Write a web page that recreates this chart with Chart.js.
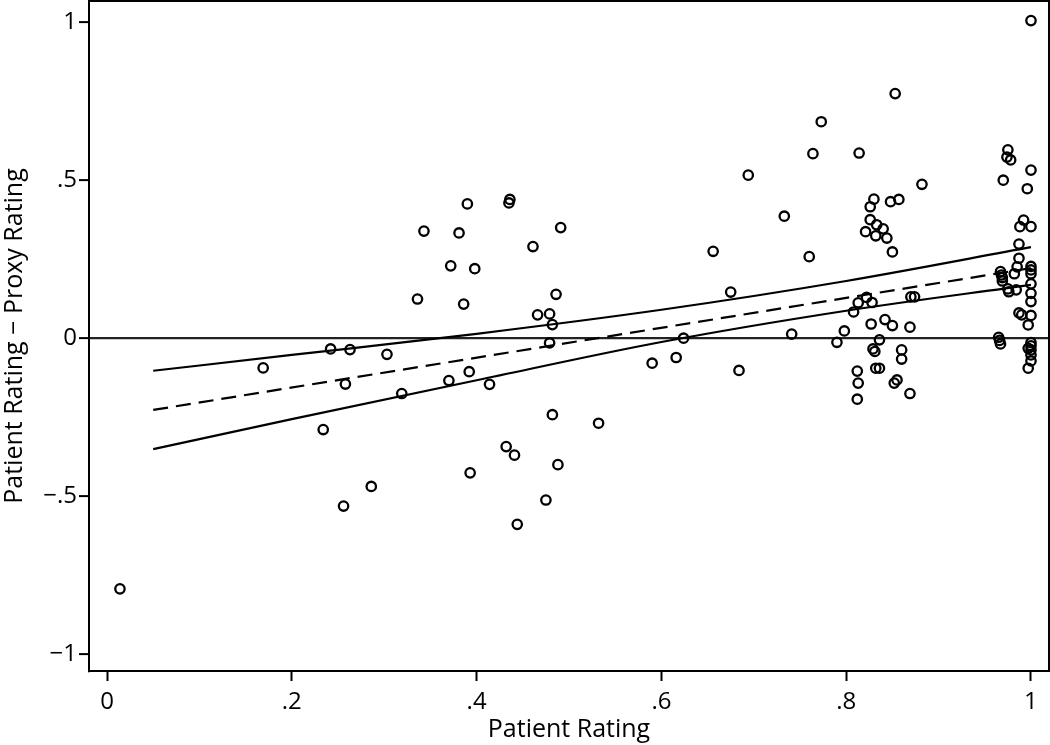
<!DOCTYPE html>
<html>
<head>
<meta charset="utf-8">
<script src="https://cdn.jsdelivr.net/npm/chart.js@4/dist/chart.umd.min.js"></script>
<style>
  html, body { margin: 0; padding: 0; background: #fff; overflow: hidden; }
  #wrap { width: 1050px; height: 745px; }
</style>
</head>
<body>
<div id="wrap"><canvas id="c" width="1050" height="745"></canvas></div>
<script>
// ---- data ----
const ptX = [0.014,0.169,0.234,0.242,0.256,0.258,0.263,0.286,0.303,0.319,0.336,0.343,0.370,0.372,0.381,0.386,0.390,0.392,0.393,0.398,0.414,0.432,0.435,0.436,0.441,0.444,0.461,0.466,0.475,0.479,0.479,0.482,0.482,0.486,0.488,0.491,0.532,0.590,0.616,0.624,0.656,0.675,0.684,0.694,0.733,0.741,0.760,0.764,0.773,0.790,0.798,0.808,0.812,0.813,0.812,0.813,0.814,0.821,0.822,0.826,0.826,0.827,0.828,0.829,0.831,0.830,0.832,0.833,0.832,0.836,0.836,0.840,0.842,0.844,0.848,0.850,0.850,0.852,0.855,0.853,0.857,0.860,0.860,0.869,0.869,0.870,0.874,0.882,0.965,0.966,0.967,0.967,0.968,0.969,0.969,0.970,0.974,0.975,0.978,0.975,0.976,0.982,0.985,0.984,0.987,0.987,0.987,0.990,0.988,0.992,0.996,0.997,0.997,0.997,1.000,1.000,1.000,1.000,1.000,1.000,1.000,1.000,1.000,1.000,1.000,1.000,1.000,1.000,1.000];
const ptY = [-0.794,-0.095,-0.290,-0.035,-0.532,-0.146,-0.037,-0.470,-0.052,-0.176,0.123,0.338,-0.135,0.228,0.332,0.107,0.424,-0.107,-0.427,0.219,-0.147,-0.344,0.427,0.438,-0.371,-0.590,0.289,0.073,-0.513,0.076,-0.016,0.042,-0.243,0.138,-0.401,0.349,-0.270,-0.080,-0.062,-0.001,0.274,0.145,-0.103,0.515,0.385,0.012,0.257,0.583,0.684,-0.014,0.022,0.082,-0.105,-0.143,-0.194,0.111,0.585,0.336,0.128,0.415,0.374,0.044,0.112,-0.035,-0.043,0.439,0.323,0.358,-0.096,-0.096,-0.006,0.345,0.058,0.316,0.431,0.272,0.039,-0.143,-0.133,0.773,0.438,-0.038,-0.067,0.034,-0.176,0.130,0.130,0.486,0.002,-0.008,-0.019,0.210,0.199,0.191,0.180,0.499,0.572,0.595,0.563,0.155,0.146,0.203,0.225,0.152,0.297,0.252,0.079,0.073,0.352,0.373,0.472,0.041,-0.033,-0.096,1.004,0.531,0.352,0.226,0.215,0.203,0.171,0.141,0.115,0.071,-0.015,-0.025,-0.038,-0.054,-0.073];

const fitX = [0.05, 1.0];
const fitY = [-0.228, 0.221];

const ciX = [0.05, 0.2, 0.4, 0.6, 0.8, 1.0];
const ciUpper = [-0.104, -0.054, 0.013, 0.089, 0.180, 0.287];
const ciLower = [-0.352, -0.257, -0.134, -0.013, 0.086, 0.168];

const xTickVals = [0, 0.2, 0.4, 0.6, 0.8, 1];
const xTickLabels = ['0', '.2', '.4', '.6', '.8', '1'];
const yTickVals = [-1, -0.5, 0, 0.5, 1];
const yTickLabels = ['\u22121', '\u2212.5', '0', '.5', '1'];

const xTitle = 'Patient Rating';
const yTitle = 'Patient Rating \u2212 Proxy Rating';

// ---- build ----
const zip = (xs, ys) => xs.map((x, i) => ({ x: x, y: ys[i] }));
const FONT = "'Open Sans', 'DejaVu Sans', sans-serif";

const framePlugin = {
  id: 'frame',
  afterDraw(chart) {
    const a = chart.chartArea, ctx = chart.ctx;
    ctx.save();
    ctx.strokeStyle = '#000';
    ctx.lineWidth = 2;
    ctx.strokeRect(a.left, a.top, a.right - a.left, a.bottom - a.top);
    ctx.restore();
  }
};

const lineStyle = { showLine: true, pointRadius: 0, pointHoverRadius: 0, borderColor: '#000', borderWidth: 2.2, backgroundColor: 'transparent', fill: false };

new Chart(document.getElementById('c'), {
  type: 'scatter',
  data: {
    datasets: [
      Object.assign({ data: zip(ciX, ciUpper), cubicInterpolationMode: 'monotone' }, lineStyle),
      Object.assign({ data: zip(ciX, ciLower), cubicInterpolationMode: 'monotone' }, lineStyle),
      Object.assign({ data: zip(fitX, fitY), borderDash: [15, 8] }, lineStyle),
      {
        data: zip(ptX, ptY),
        pointStyle: 'circle',
        pointRadius: 4.7,
        borderWidth: 2.3,
        pointBorderWidth: 2.3,
        borderColor: '#000',
        pointBorderColor: '#000',
        backgroundColor: 'transparent',
        pointBackgroundColor: 'transparent',
        showLine: false
      }
    ]
  },
  options: {
    responsive: false,
    animation: false,
    events: [],
    layout: { autoPadding: false, padding: { top: 1, right: 1, left: 0, bottom: 0 } },
    plugins: { legend: { display: false }, tooltip: { enabled: false } },
    scales: {
      x: {
        type: 'linear',
        min: -0.0195, max: 1.0195,
        afterBuildTicks: s => { s.ticks = xTickVals.map(v => ({ value: v })); },
        afterFit: s => { s.height = 74; s.paddingLeft = 0; s.paddingRight = 0; },
        ticks: {
          callback: (v) => { const i = xTickVals.indexOf(v); return i >= 0 ? xTickLabels[i] : ''; },
          color: '#000', font: { family: FONT, size: 24 }, padding: 7, maxRotation: 0, autoSkip: false
        },
        grid: { drawOnChartArea: false, tickLength: 10, tickColor: '#000', tickWidth: 2 },
        border: { display: true, color: '#000', width: 2 },
        title: { display: true, text: xTitle, color: '#000', font: { family: FONT, size: 25 }, padding: { top: 0, bottom: 0 } }
      },
      y: {
        type: 'linear',
        min: -1.054, max: 1.066,
        afterBuildTicks: s => { s.ticks = yTickVals.map(v => ({ value: v })); },
        afterFit: s => { s.width = 89; s.paddingTop = 0; s.paddingBottom = 0; },
        ticks: {
          callback: (v) => { const i = yTickVals.indexOf(v); return i >= 0 ? yTickLabels[i] : ''; },
          color: '#000', font: { family: FONT, size: 24 }, padding: 2, autoSkip: false
        },
        grid: {
          drawOnChartArea: true,
          color: ctx => (ctx.tick && ctx.tick.value === 0) ? '#222' : 'rgba(0,0,0,0)',
          lineWidth: 2.2,
          tickLength: 10, tickColor: '#000', tickWidth: 2
        },
        border: { display: true, color: '#000', width: 2 },
        title: { display: true, text: yTitle, color: '#000', font: { family: FONT, size: 25 }, padding: { top: 0, bottom: 0 } }
      }
    }
  },
  plugins: [framePlugin]
});
</script>
</body>
</html>
